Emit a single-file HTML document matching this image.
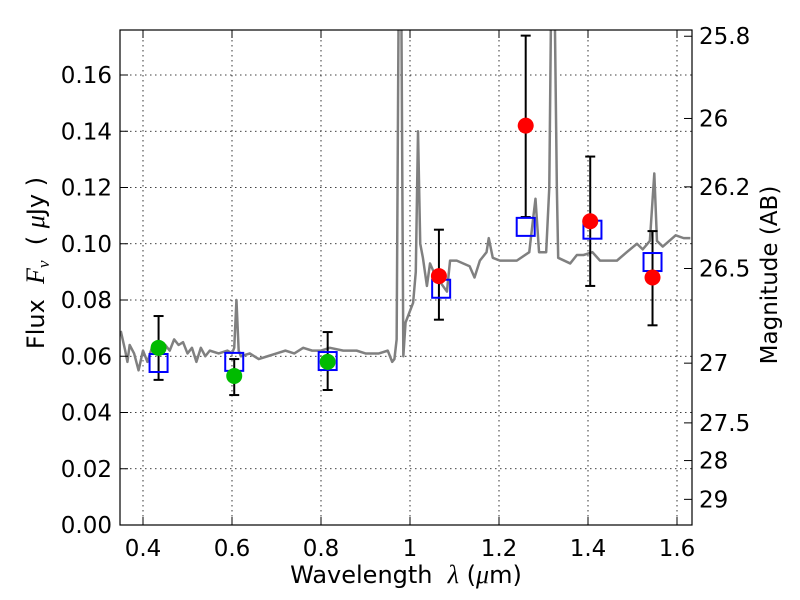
<!DOCTYPE html>
<html><head><meta charset="utf-8"><style>
body{margin:0;background:#fff;}
svg{display:block;font-family:"DejaVu Sans","Liberation Sans",sans-serif;}
</style></head><body>
<svg id="chart" width="800" height="600">
<rect x="0" y="0" width="800" height="600" fill="#fff"/>
<defs><clipPath id="clip"><rect x="120" y="30" width="572" height="495"/></clipPath></defs>
<g id="grid"></g>
<g id="spec" clip-path="url(#clip)"></g>
<g id="marks" clip-path="url(#clip)"></g>
<rect x="120" y="30" width="572" height="495" fill="none" stroke="#000" stroke-width="1.2"/>
<g id="axes"></g>
<text x="406" y="583" font-size="24" text-anchor="middle">Wavelength&#160;&#160;<tspan font-family="Liberation Serif" font-style="italic" font-size="26">λ</tspan>&#160;(<tspan font-family="Liberation Serif" font-style="italic" font-size="26">μ</tspan>m)</text>
<text transform="translate(44,263) rotate(-90)" font-size="24" text-anchor="middle">Flux&#160;&#160;<tspan font-family="Liberation Serif" font-style="italic" font-size="26">F<tspan font-size="17" dy="5">ν</tspan></tspan><tspan dy="-5">&#160;&#160;(&#160;</tspan><tspan font-family="Liberation Serif" font-style="italic" font-size="26">μ</tspan>Jy&#160;)</text>
<text transform="translate(777,275) rotate(-90)" font-size="23" text-anchor="middle">Magnitude (AB)</text>
</svg>
<script>
const specX=[0.35,0.36,0.365,0.37,0.38,0.39,0.40,0.41,0.42,0.43,0.45,0.46,0.47,0.48,0.49,0.50,0.51,0.52,0.53,0.54,0.55,0.57,0.59,0.60,0.605,0.61,0.615,0.62,0.64,0.66,0.68,0.70,0.72,0.74,0.76,0.78,0.80,0.82,0.85,0.88,0.90,0.93,0.95,0.96,0.965,0.97,0.975,0.98,0.985,0.99,1.007,1.013,1.018,1.023,1.029,1.038,1.045,1.056,1.083,1.09,1.105,1.134,1.145,1.157,1.172,1.177,1.186,1.202,1.24,1.268,1.276,1.282,1.29,1.306,1.313,1.318,1.324,1.33,1.333,1.36,1.375,1.39,1.41,1.427,1.465,1.487,1.51,1.523,1.539,1.549,1.555,1.568,1.597,1.615,1.63];
const specY=[0.069,0.062,0.058,0.064,0.061,0.055,0.062,0.058,0.063,0.065,0.064,0.062,0.066,0.064,0.065,0.061,0.063,0.058,0.063,0.060,0.062,0.061,0.062,0.061,0.063,0.080,0.062,0.060,0.061,0.059,0.060,0.061,0.062,0.061,0.063,0.062,0.062,0.063,0.062,0.062,0.061,0.061,0.062,0.058,0.059,0.066,0.20,0.20,0.06,0.072,0.079,0.090,0.140,0.100,0.095,0.085,0.093,0.089,0.083,0.094,0.094,0.092,0.088,0.094,0.097,0.102,0.095,0.094,0.094,0.097,0.108,0.116,0.097,0.097,0.12,0.20,0.20,0.12,0.095,0.093,0.096,0.096,0.097,0.094,0.094,0.097,0.100,0.098,0.101,0.125,0.101,0.099,0.103,0.102,0.102];
const photX=[0.435,0.605,0.815,1.065,1.26,1.405,1.545];
const photY=[0.063,0.053,0.058,0.0885,0.142,0.108,0.088];
const errLo=[0.0516,0.0462,0.048,0.073,0.1095,0.085,0.071];
const errHi=[0.0743,0.059,0.0686,0.105,0.174,0.131,0.1045];
const modelX=[0.435,0.605,0.815,1.07,1.26,1.41,1.545];
const modelY=[0.0576,0.058,0.0583,0.084,0.106,0.105,0.0935];
const xTicks=[0.4,0.6,0.8,1.0,1.2,1.4,1.6];
const xTickLabels=["0.4","0.6","0.8","1","1.2","1.4","1.6"];
const yTicks=[0,0.02,0.04,0.06,0.08,0.10,0.12,0.14,0.16];
const yTickLabels=["0.00","0.02","0.04","0.06","0.08","0.10","0.12","0.14","0.16"];
const magTicks=[25.8,26,26.2,26.5,27,27.5,28,29];
const magLabels=["25.8","26","26.2","26.5","27","27.5","28","29"];

const X=v=>120.75+(v-0.35)*445;
const Y=v=>525-v*2812.5;
const M=m=>Y(Math.pow(10,(23.9-m)/2.5));
const NS="http://www.w3.org/2000/svg";
function mk(p,t,a){const e=document.createElementNS(NS,t);for(const k in a)e.setAttribute(k,a[k]);p.appendChild(e);return e;}
const grid=document.getElementById('grid'),axes=document.getElementById('axes');
xTicks.forEach((v,i)=>{
 const l=mk(grid,'line',{x1:X(v),x2:X(v),y1:30,y2:525,stroke:'#000','stroke-dasharray':'1.5,3.5','stroke-width':0.8});
 
 
 mk(axes,'line',{x1:X(v),x2:X(v),y1:525,y2:517,stroke:'#000'});
 mk(axes,'line',{x1:X(v),x2:X(v),y1:30,y2:38,stroke:'#000'});
 const t=mk(axes,'text',{x:X(v),y:556,'font-size':23,'text-anchor':'middle'});t.textContent=xTickLabels[i];
 
 
});
yTicks.forEach((v,i)=>{
 const l=mk(grid,'line',{x1:120,x2:692,y1:Y(v),y2:Y(v),stroke:'#000','stroke-dasharray':'1.5,3.5','stroke-width':0.8});
 
 
 mk(axes,'line',{x1:120,x2:128,y1:Y(v),y2:Y(v),stroke:'#000'});
 const t=mk(axes,'text',{x:112,y:Y(v)+8,'font-size':23,'text-anchor':'end'});t.textContent=yTickLabels[i];
 
 
});
magTicks.forEach((m,i)=>{
 mk(axes,'line',{x1:692,x2:684,y1:M(m),y2:M(m),stroke:'#000'});
 const t=mk(axes,'text',{x:699,y:M(m)+8,'font-size':23});t.textContent=magLabels[i];
 
 
});
const spec=document.getElementById('spec');
const sp=mk(spec,'polyline',{points:specX.map((x,i)=>X(x)+','+Y(specY[i])).join(' '),fill:'none',stroke:'#808080','stroke-width':2.5,'stroke-linejoin':'round'});


const marks=document.getElementById('marks');
photX.forEach((x,i)=>{
 const e=mk(marks,'g',{stroke:'#000','stroke-width':2});
 
 
 mk(e,'line',{x1:X(x),x2:X(x),y1:Y(errLo[i]),y2:Y(errHi[i])});
 mk(e,'line',{x1:X(x)-5,x2:X(x)+5,y1:Y(errLo[i]),y2:Y(errLo[i])});
 mk(e,'line',{x1:X(x)-5,x2:X(x)+5,y1:Y(errHi[i]),y2:Y(errHi[i])});
});
modelX.forEach((x,i)=>{
 const r=mk(marks,'rect',{x:X(x)-9,y:Y(modelY[i])-9,width:18,height:18,fill:'none',stroke:'#0000ff','stroke-width':2});
 
 
});
photX.forEach((x,i)=>{
 const c=mk(marks,'circle',{cx:X(x),cy:Y(photY[i]),r:8,fill:x<1?'#00bb00':'#ff0000'});
 
 
});
</script>
</body></html>
